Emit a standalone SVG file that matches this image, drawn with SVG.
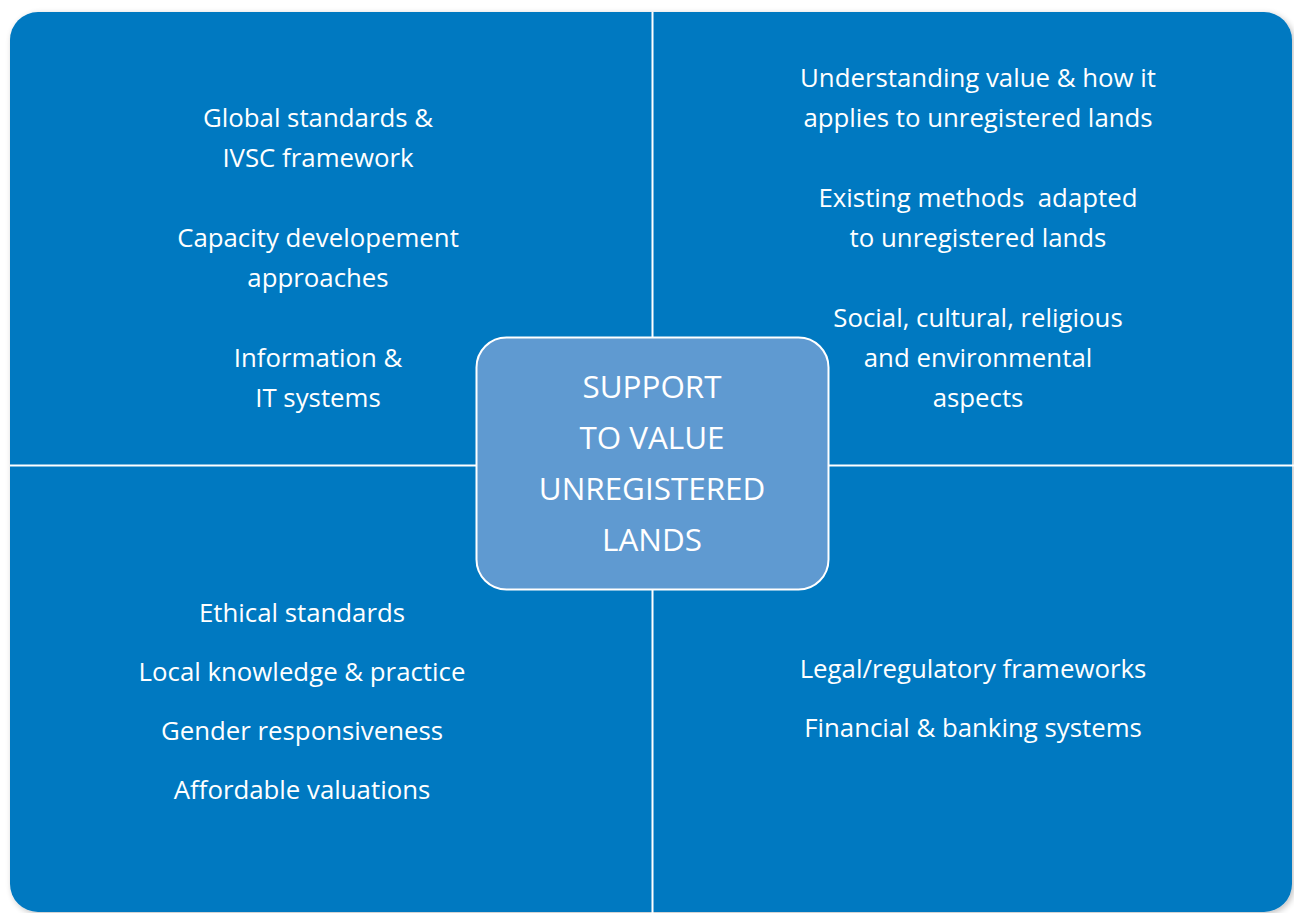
<svg xmlns="http://www.w3.org/2000/svg" width="1294" height="913" viewBox="0 0 1294 913">
  <defs>
    <filter id="shadow" x="-5%" y="-5%" width="110%" height="110%">
      <feGaussianBlur in="SourceAlpha" stdDeviation="3"/>
      <feOffset dx="2" dy="2" result="b"/>
      <feComponentTransfer><feFuncA type="linear" slope="0.25"/></feComponentTransfer>
      <feMerge><feMergeNode/><feMergeNode in="SourceGraphic"/></feMerge>
    </filter>
  </defs>
  <style>
    .bg { fill: #0079c1; }
    .div { stroke: #ffffff; stroke-width: 2; fill: none; }
    .t { font-family: "Open Sans", "Noto Sans", "Liberation Sans", sans-serif; font-size: 25.8px; fill: #ffffff; text-anchor: middle; }
    .c { font-family: "Open Sans", "Noto Sans", "Liberation Sans", sans-serif; font-size: 31.4px; fill: #ffffff; text-anchor: middle; }
    .box { fill: #5f9ad1; stroke: #ffffff; stroke-width: 2; }
  </style>
  <rect width="1294" height="913" fill="#ffffff"/>
  <rect class="bg" x="10" y="12" width="1282" height="900" rx="28" ry="28" filter="url(#shadow)"/>
  <g id="connectors">
    <line class="div" x1="652.5" y1="12" x2="652.5" y2="913"/>
    <line class="div" x1="10" y1="465.5" x2="1294" y2="465.5"/>
  </g>
  <g id="top-left">
    <text class="t" x="318" y="127">Global standards &amp;</text>
    <text class="t" x="318" y="167">IVSC framework</text>
    <text class="t" x="318" y="247">Capacity developement</text>
    <text class="t" x="318" y="287">approaches</text>
    <text class="t" x="318" y="367">Information &amp;</text>
    <text class="t" x="318" y="407">IT systems</text>
  </g>
  <g id="top-right">
    <text class="t" x="978" y="87">Understanding value &amp; how it</text>
    <text class="t" x="978" y="127">applies to unregistered lands</text>
    <text class="t" x="978" y="207" xml:space="preserve">Existing methods  adapted</text>
    <text class="t" x="978" y="247">to unregistered lands</text>
    <text class="t" x="978" y="327">Social, cultural, religious</text>
    <text class="t" x="978" y="367">and environmental</text>
    <text class="t" x="978" y="407">aspects</text>
  </g>
  <g id="bottom-left">
    <text class="t" x="302" y="622">Ethical standards</text>
    <text class="t" x="302" y="681">Local knowledge &amp; practice</text>
    <text class="t" x="302" y="740">Gender responsiveness</text>
    <text class="t" x="302" y="799">Affordable valuations</text>
  </g>
  <g id="bottom-right">
    <text class="t" x="973" y="678">Legal/regulatory frameworks</text>
    <text class="t" x="973" y="737">Financial &amp; banking systems</text>
  </g>
  <g id="center">
    <rect class="box" x="476.5" y="337.5" width="352" height="252" rx="30" ry="30"/>
    <text class="c" x="652" y="398">SUPPORT</text>
    <text class="c" x="652" y="449">TO VALUE</text>
    <text class="c" x="652" y="500">UNREGISTERED</text>
    <text class="c" x="652" y="551">LANDS</text>
  </g>
</svg>
